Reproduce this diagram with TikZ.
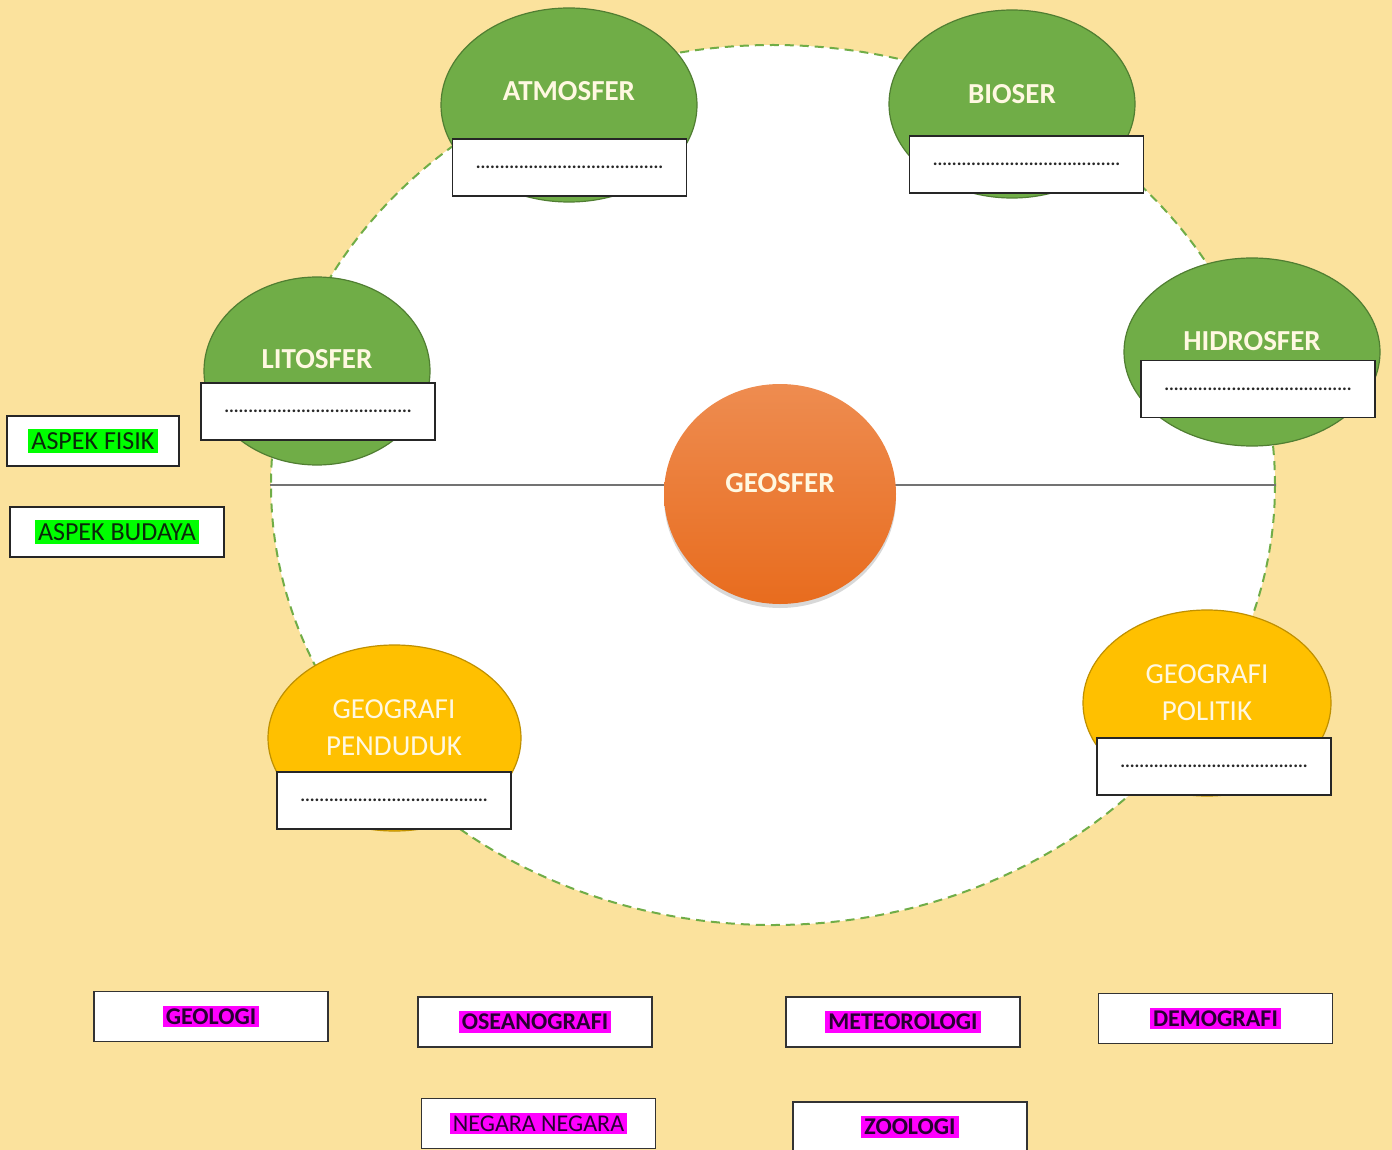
\documentclass[tikz,border=0pt]{standalone}
\usepackage{fontspec}
\setmainfont{Carlito}
\usetikzlibrary{shapes.geometric,shadows}
\definecolor{bgcol}{RGB}{251,226,157}
\definecolor{grfill}{RGB}{112,173,71}
\definecolor{grline}{RGB}{80,126,50}
\definecolor{yefill}{RGB}{255,192,0}
\definecolor{yeline}{RGB}{191,144,0}
\definecolor{cream}{RGB}{255,248,225}
\definecolor{hlmag}{RGB}{255,0,255}
\definecolor{hlgrn}{RGB}{0,255,0}
\definecolor{magtxt}{RGB}{40,0,50}
\definecolor{grntxt}{RGB}{10,40,10}
\definecolor{orgtop}{RGB}{238,140,80}
\definecolor{orgbot}{RGB}{232,108,30}
\newcommand\hlmagbox[1]{{\setlength{\fboxsep}{1.5pt}\colorbox{hlmag}{\textcolor{magtxt}{#1}}}}
\newcommand\hlgrnbox[1]{{\setlength{\fboxsep}{1.5pt}\colorbox{hlgrn}{\textcolor{grntxt}{#1}}}}
\newcommand\dotline{.......................................}
\begin{document}
\begin{tikzpicture}[x=0.5pt,y=-0.5pt,
  greenell/.style={ellipse, draw=grline, fill=grfill, line width=0.6pt, inner sep=0pt},
  yellowell/.style={ellipse, draw=yeline, fill=yefill, line width=0.6pt, inner sep=0pt},
  toplbl/.style={text=cream, font=\fontsize{14.5}{17}\selectfont\bfseries, inner sep=0pt},
  twolbl/.style={text=cream, font=\fontsize{14.5}{18.5}\selectfont, align=center, inner sep=0pt},
  dotbox/.style={draw=black!85, fill=white, line width=0.7pt, minimum width=117pt, minimum height=28.5pt, inner sep=0pt, font=\fontsize{9}{10}\selectfont\bfseries, text=black!85},
  termbox/.style={draw=black!80, fill=white, line width=0.7pt, minimum width=117pt, minimum height=25pt, inner sep=0pt, font=\fontsize{12}{14}\selectfont\bfseries},
  aspbox/.style={draw=black!85, fill=white, line width=0.7pt, minimum height=25pt, inner sep=0pt, font=\fontsize{13}{15}\selectfont}
]
\useasboundingbox[fill=bgcol] (0,0) rectangle (1392,1150);

% big dashed circle
\node[ellipse, draw=grfill, fill=white, line width=1pt, dash pattern=on 4.5pt off 3pt,
      minimum width=502pt, minimum height=440pt, inner sep=0pt] (world) at (773,485) {};

% central axis
\draw[black!55, line width=0.8pt] (world.west) -- (world.east);

% GEOSFER
\node[ellipse, minimum width=116pt, minimum height=110pt, inner sep=0pt,
      top color=orgtop, bottom color=orgbot, draw=none,
      drop shadow={shadow xshift=0pt, shadow yshift=-2pt, opacity=0.3}] (geo) at (780,494) {};
\node[toplbl] (geoT) at (780,483) {GEOSFER};

% green ellipses
\node[greenell, minimum width=128pt, minimum height=97pt] (atm) at (569,105) {};
\node[toplbl] (atmT) at (569,91) {ATMOSFER};
\node[dotbox] (atmB) at (569.5,167.5) {\dotline};

\node[greenell, minimum width=123pt, minimum height=94pt] (bio) at (1012,104) {};
\node[toplbl] (bioT) at (1012,94) {BIOSER};
\node[dotbox] (bioB) at (1026.5,164.5) {\dotline};

\node[greenell, minimum width=128pt, minimum height=94pt] (hid) at (1252,352) {};
\node[toplbl] (hidT) at (1252,341) {HIDROSFER};
\node[dotbox] (hidB) at (1258,389) {\dotline};

\node[greenell, minimum width=113pt, minimum height=94pt] (lit) at (317,371) {};
\node[toplbl] (litT) at (317,359) {LITOSFER};
\node[dotbox] (litB) at (318,411.5) {\dotline};

% yellow ellipses
\node[yellowell, minimum width=126.5pt, minimum height=93pt] (pen) at (394.5,738) {};
\node[twolbl] (penT) at (394,727.5) {GEOGRAFI\\PENDUDUK};
\node[dotbox] (penB) at (394,800.5) {\dotline};

\node[yellowell, minimum width=124pt, minimum height=93pt] (pol) at (1207,703) {};
\node[twolbl] (polT) at (1207,693) {GEOGRAFI\\POLITIK};
\node[dotbox] (polB) at (1214,766.5) {\dotline};

% aspect boxes
\node[aspbox, minimum width=86pt] (fis) at (93,441) {\hlgrnbox{ASPEK FISIK}};
\node[aspbox, minimum width=107pt] (bud) at (117,532) {\hlgrnbox{ASPEK BUDAYA}};

% term boxes
\node[termbox] (geol) at (211,1016.5) {\hlmagbox{GEOLOGI}};
\node[termbox] (osea) at (535,1022) {\hlmagbox{OSEANOGRAFI}};
\node[termbox] (mete) at (903,1022) {\hlmagbox{METEOROLOGI}};
\node[termbox] (demo) at (1215.5,1018.5) {\hlmagbox{DEMOGRAFI}};
\node[termbox] (nega) at (538.5,1123.5) {\hlmagbox{\mdseries NEGARA NEGARA}};
\node[termbox] (zool) at (910,1127) {\hlmagbox{ZOOLOGI}};
\end{tikzpicture}
\end{document}
